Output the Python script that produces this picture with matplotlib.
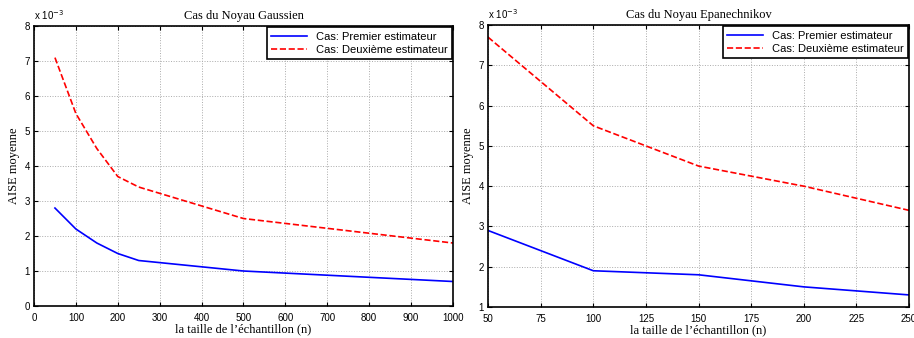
import matplotlib.pyplot as plt

# AISE values in units of 1e-3
n_gauss = [50, 100, 150, 200, 250, 500, 1000]
gauss_premier = [2.8, 2.2, 1.8, 1.5, 1.3, 1.0, 0.7]
gauss_deuxieme = [7.1, 5.5, 4.5, 3.7, 3.4, 2.5, 1.8]

n_epan = [50, 100, 150, 200, 250]
epan_premier = [2.9, 1.9, 1.8, 1.5, 1.3]
epan_deuxieme = [7.7, 5.5, 4.5, 4.0, 3.4]

serif = ['Liberation Serif', 'DejaVu Serif']
sans = ['Liberation Sans', 'DejaVu Sans']

fig = plt.figure(figsize=(9.14, 3.38), dpi=100)
ax1 = fig.add_axes([0.0372, 0.0947, 0.4584, 0.828])
ax2 = fig.add_axes([0.534, 0.0917, 0.4606, 0.834])


def style(ax, title, xlim, xticks, ylim, yticks):
    ax.set_xlim(*xlim)
    ax.set_ylim(*ylim)
    ax.set_xticks(xticks)
    ax.set_yticks(yticks)
    ax.tick_params(direction='in', top=True, right=True, labelsize=7, length=3, pad=3)
    ax.tick_params(axis='x', pad=5)
    for lab in ax.get_xticklabels() + ax.get_yticklabels():
        lab.set_family(sans)
    ax.grid(True, linestyle=':', color='#aaaaaa', linewidth=0.7)
    for s in ax.spines.values():
        s.set_linewidth(1.2)
    ax.set_title(title, fontsize=9, family=serif, pad=5)
    ax.set_xlabel("la taille de l\u2019\u00e9chantillon (n)", fontsize=9, family=serif, labelpad=0)
    ax.set_ylabel("AISE moyenne", fontsize=9, family=serif, labelpad=3)
    ax.text(0.0, 1.015, r'x 10$^{-3}$', transform=ax.transAxes, fontsize=7,
            family=sans, ha='left', va='bottom')
    leg = ax.legend(loc='upper right', prop={'family': sans, 'size': 8},
                    fancybox=False, framealpha=1, edgecolor='black',
                    borderaxespad=0.1, handlelength=3.2, labelspacing=0.3)
    leg.get_frame().set_linewidth(1.2)


ax1.plot(n_gauss, gauss_premier, color='blue', linewidth=1.2, label='Cas: Premier estimateur')
ax1.plot(n_gauss, gauss_deuxieme, color='red', linestyle='--', linewidth=1.2,
         label='Cas: Deuxi\u00e8me estimateur')
style(ax1, 'Cas du Noyau Gaussien', (0, 1000), range(0, 1001, 100), (0, 8), range(0, 9))

ax2.plot(n_epan, epan_premier, color='blue', linewidth=1.2, label='Cas: Premier estimateur')
ax2.plot(n_epan, epan_deuxieme, color='red', linestyle='--', linewidth=1.2,
         label='Cas: Deuxi\u00e8me estimateur')
style(ax2, 'Cas du Noyau Epanechnikov', (50, 250), range(50, 251, 25), (1, 8), range(1, 9))

fig.savefig('out.png', dpi=100)
